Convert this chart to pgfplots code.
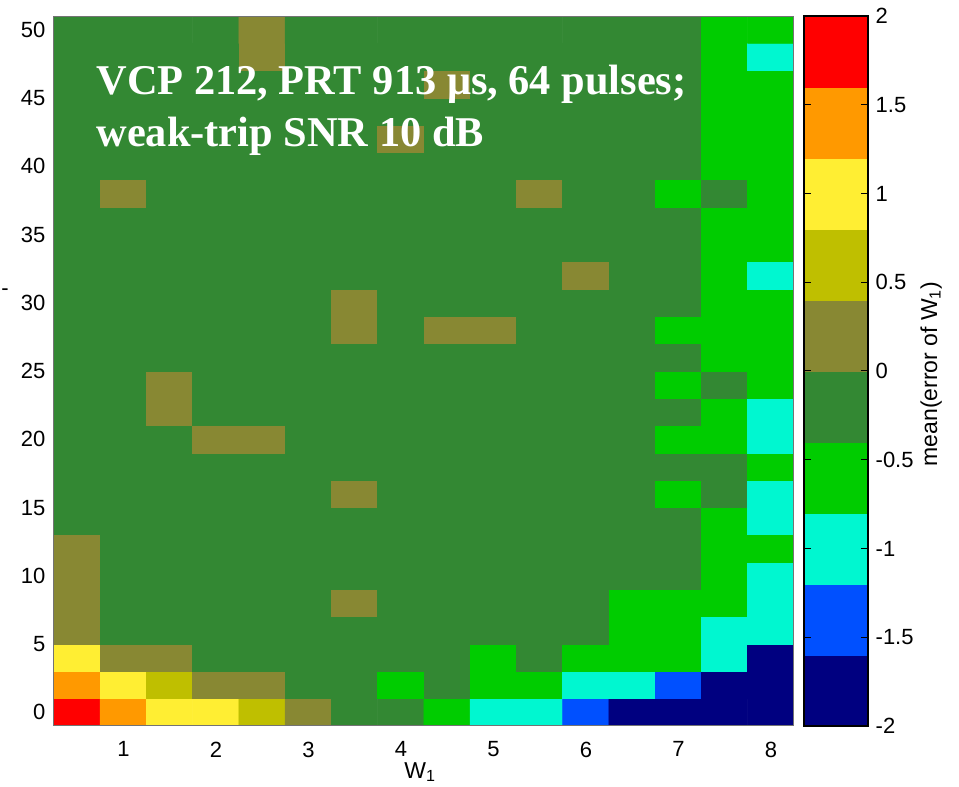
\documentclass[border=0pt]{standalone}
\usepackage{pgfplots}
\pgfplotsset{compat=1.18}
\usepackage{fontspec}
\setmainfont{Liberation Sans}
\newfontfamily\serifbold{Liberation Serif}

% ten-step colour scale for the mean error, -2 ... 2 in steps of 0.4
\pgfplotsset{
  colormap={errmap}{
    rgb255(0cm)=(0,0,128)
    rgb255(1cm)=(0,80,255)
    rgb255(2cm)=(0,247,208)
    rgb255(3cm)=(0,204,0)
    rgb255(4cm)=(51,136,51)
    rgb255(5cm)=(136,136,51)
    rgb255(6cm)=(191,191,0)
    rgb255(7cm)=(255,238,51)
    rgb255(8cm)=(255,153,0)
    rgb255(9cm)=(255,0,0)
    rgb255(10cm)=(255,0,0)
  },
}

\begin{document}
\begin{tikzpicture}
\useasboundingbox (-27pt,-30.5pt) rectangle (452.5pt,363pt);

% mean error of W1 over (W1, second variable)
\begin{axis}[
  at={(0pt,0pt)}, anchor=south west,
  scale only axis, width=370pt, height=355pt,
  xmin=0.25, xmax=8.25, ymin=-1, ymax=51,
  xtick={1,2,3,4,5,6,7,8}, ytick={0,5,10,15,20,25,30,35,40,45,50},
  major tick length=0pt,
  colormap name=errmap, colormap access=piecewise constant,
  point meta min=-2, point meta max=2,
  axis line style={draw=black!55, line width=0.5pt},
  axis on top,
  /pgf/number format/assume math mode=true,
  tick label style={font=\fontsize{11}{13}\selectfont},
  xticklabel style={yshift=-4.3pt},
  yticklabel style={xshift=-0.8pt},
  xlabel={W\textsubscript{1}},
  xlabel style={at={(axis description cs:0.495,0)}, anchor=north, inner sep=0pt,
                yshift=-18pt, font=\fontsize{11.5}{13}\selectfont},
]
\addplot[matrix plot*, mesh/cols=16, point meta=explicit] coordinates {
(0.5,0)[1.8] (1,0)[1.4] (1.5,0)[1.0] (2,0)[1.0] (2.5,0)[0.6] (3,0)[0.2] (3.5,0)[-0.2] (4,0)[-0.2] (4.5,0)[-0.6] (5,0)[-1.0] (5.5,0)[-1.0] (6,0)[-1.4] (6.5,0)[-1.8] (7,0)[-1.8] (7.5,0)[-1.8] (8,0)[-1.8]
(0.5,2)[1.4] (1,2)[1.0] (1.5,2)[0.6] (2,2)[0.2] (2.5,2)[0.2] (3,2)[-0.2] (3.5,2)[-0.2] (4,2)[-0.6] (4.5,2)[-0.2] (5,2)[-0.6] (5.5,2)[-0.6] (6,2)[-1.0] (6.5,2)[-1.0] (7,2)[-1.4] (7.5,2)[-1.8] (8,2)[-1.8]
(0.5,4)[1.0] (1,4)[0.2] (1.5,4)[0.2] (2,4)[-0.2] (2.5,4)[-0.2] (3,4)[-0.2] (3.5,4)[-0.2] (4,4)[-0.2] (4.5,4)[-0.2] (5,4)[-0.6] (5.5,4)[-0.2] (6,4)[-0.6] (6.5,4)[-0.6] (7,4)[-0.6] (7.5,4)[-1.0] (8,4)[-1.8]
(0.5,6)[0.2] (1,6)[-0.2] (1.5,6)[-0.2] (2,6)[-0.2] (2.5,6)[-0.2] (3,6)[-0.2] (3.5,6)[-0.2] (4,6)[-0.2] (4.5,6)[-0.2] (5,6)[-0.2] (5.5,6)[-0.2] (6,6)[-0.2] (6.5,6)[-0.6] (7,6)[-0.6] (7.5,6)[-1.0] (8,6)[-1.0]
(0.5,8)[0.2] (1,8)[-0.2] (1.5,8)[-0.2] (2,8)[-0.2] (2.5,8)[-0.2] (3,8)[-0.2] (3.5,8)[0.2] (4,8)[-0.2] (4.5,8)[-0.2] (5,8)[-0.2] (5.5,8)[-0.2] (6,8)[-0.2] (6.5,8)[-0.6] (7,8)[-0.6] (7.5,8)[-0.6] (8,8)[-1.0]
(0.5,10)[0.2] (1,10)[-0.2] (1.5,10)[-0.2] (2,10)[-0.2] (2.5,10)[-0.2] (3,10)[-0.2] (3.5,10)[-0.2] (4,10)[-0.2] (4.5,10)[-0.2] (5,10)[-0.2] (5.5,10)[-0.2] (6,10)[-0.2] (6.5,10)[-0.2] (7,10)[-0.2] (7.5,10)[-0.6] (8,10)[-1.0]
(0.5,12)[0.2] (1,12)[-0.2] (1.5,12)[-0.2] (2,12)[-0.2] (2.5,12)[-0.2] (3,12)[-0.2] (3.5,12)[-0.2] (4,12)[-0.2] (4.5,12)[-0.2] (5,12)[-0.2] (5.5,12)[-0.2] (6,12)[-0.2] (6.5,12)[-0.2] (7,12)[-0.2] (7.5,12)[-0.6] (8,12)[-0.6]
(0.5,14)[-0.2] (1,14)[-0.2] (1.5,14)[-0.2] (2,14)[-0.2] (2.5,14)[-0.2] (3,14)[-0.2] (3.5,14)[-0.2] (4,14)[-0.2] (4.5,14)[-0.2] (5,14)[-0.2] (5.5,14)[-0.2] (6,14)[-0.2] (6.5,14)[-0.2] (7,14)[-0.2] (7.5,14)[-0.6] (8,14)[-1.0]
(0.5,16)[-0.2] (1,16)[-0.2] (1.5,16)[-0.2] (2,16)[-0.2] (2.5,16)[-0.2] (3,16)[-0.2] (3.5,16)[0.2] (4,16)[-0.2] (4.5,16)[-0.2] (5,16)[-0.2] (5.5,16)[-0.2] (6,16)[-0.2] (6.5,16)[-0.2] (7,16)[-0.6] (7.5,16)[-0.2] (8,16)[-1.0]
(0.5,18)[-0.2] (1,18)[-0.2] (1.5,18)[-0.2] (2,18)[-0.2] (2.5,18)[-0.2] (3,18)[-0.2] (3.5,18)[-0.2] (4,18)[-0.2] (4.5,18)[-0.2] (5,18)[-0.2] (5.5,18)[-0.2] (6,18)[-0.2] (6.5,18)[-0.2] (7,18)[-0.2] (7.5,18)[-0.2] (8,18)[-0.6]
(0.5,20)[-0.2] (1,20)[-0.2] (1.5,20)[-0.2] (2,20)[0.2] (2.5,20)[0.2] (3,20)[-0.2] (3.5,20)[-0.2] (4,20)[-0.2] (4.5,20)[-0.2] (5,20)[-0.2] (5.5,20)[-0.2] (6,20)[-0.2] (6.5,20)[-0.2] (7,20)[-0.6] (7.5,20)[-0.6] (8,20)[-1.0]
(0.5,22)[-0.2] (1,22)[-0.2] (1.5,22)[0.2] (2,22)[-0.2] (2.5,22)[-0.2] (3,22)[-0.2] (3.5,22)[-0.2] (4,22)[-0.2] (4.5,22)[-0.2] (5,22)[-0.2] (5.5,22)[-0.2] (6,22)[-0.2] (6.5,22)[-0.2] (7,22)[-0.2] (7.5,22)[-0.6] (8,22)[-1.0]
(0.5,24)[-0.2] (1,24)[-0.2] (1.5,24)[0.2] (2,24)[-0.2] (2.5,24)[-0.2] (3,24)[-0.2] (3.5,24)[-0.2] (4,24)[-0.2] (4.5,24)[-0.2] (5,24)[-0.2] (5.5,24)[-0.2] (6,24)[-0.2] (6.5,24)[-0.2] (7,24)[-0.6] (7.5,24)[-0.2] (8,24)[-0.6]
(0.5,26)[-0.2] (1,26)[-0.2] (1.5,26)[-0.2] (2,26)[-0.2] (2.5,26)[-0.2] (3,26)[-0.2] (3.5,26)[-0.2] (4,26)[-0.2] (4.5,26)[-0.2] (5,26)[-0.2] (5.5,26)[-0.2] (6,26)[-0.2] (6.5,26)[-0.2] (7,26)[-0.2] (7.5,26)[-0.6] (8,26)[-0.6]
(0.5,28)[-0.2] (1,28)[-0.2] (1.5,28)[-0.2] (2,28)[-0.2] (2.5,28)[-0.2] (3,28)[-0.2] (3.5,28)[0.2] (4,28)[-0.2] (4.5,28)[0.2] (5,28)[0.2] (5.5,28)[-0.2] (6,28)[-0.2] (6.5,28)[-0.2] (7,28)[-0.6] (7.5,28)[-0.6] (8,28)[-0.6]
(0.5,30)[-0.2] (1,30)[-0.2] (1.5,30)[-0.2] (2,30)[-0.2] (2.5,30)[-0.2] (3,30)[-0.2] (3.5,30)[0.2] (4,30)[-0.2] (4.5,30)[-0.2] (5,30)[-0.2] (5.5,30)[-0.2] (6,30)[-0.2] (6.5,30)[-0.2] (7,30)[-0.2] (7.5,30)[-0.6] (8,30)[-0.6]
(0.5,32)[-0.2] (1,32)[-0.2] (1.5,32)[-0.2] (2,32)[-0.2] (2.5,32)[-0.2] (3,32)[-0.2] (3.5,32)[-0.2] (4,32)[-0.2] (4.5,32)[-0.2] (5,32)[-0.2] (5.5,32)[-0.2] (6,32)[0.2] (6.5,32)[-0.2] (7,32)[-0.2] (7.5,32)[-0.6] (8,32)[-1.0]
(0.5,34)[-0.2] (1,34)[-0.2] (1.5,34)[-0.2] (2,34)[-0.2] (2.5,34)[-0.2] (3,34)[-0.2] (3.5,34)[-0.2] (4,34)[-0.2] (4.5,34)[-0.2] (5,34)[-0.2] (5.5,34)[-0.2] (6,34)[-0.2] (6.5,34)[-0.2] (7,34)[-0.2] (7.5,34)[-0.6] (8,34)[-0.6]
(0.5,36)[-0.2] (1,36)[-0.2] (1.5,36)[-0.2] (2,36)[-0.2] (2.5,36)[-0.2] (3,36)[-0.2] (3.5,36)[-0.2] (4,36)[-0.2] (4.5,36)[-0.2] (5,36)[-0.2] (5.5,36)[-0.2] (6,36)[-0.2] (6.5,36)[-0.2] (7,36)[-0.2] (7.5,36)[-0.6] (8,36)[-0.6]
(0.5,38)[-0.2] (1,38)[0.2] (1.5,38)[-0.2] (2,38)[-0.2] (2.5,38)[-0.2] (3,38)[-0.2] (3.5,38)[-0.2] (4,38)[-0.2] (4.5,38)[-0.2] (5,38)[-0.2] (5.5,38)[0.2] (6,38)[-0.2] (6.5,38)[-0.2] (7,38)[-0.6] (7.5,38)[-0.2] (8,38)[-0.6]
(0.5,40)[-0.2] (1,40)[-0.2] (1.5,40)[-0.2] (2,40)[-0.2] (2.5,40)[-0.2] (3,40)[-0.2] (3.5,40)[-0.2] (4,40)[-0.2] (4.5,40)[-0.2] (5,40)[-0.2] (5.5,40)[-0.2] (6,40)[-0.2] (6.5,40)[-0.2] (7,40)[-0.2] (7.5,40)[-0.6] (8,40)[-0.6]
(0.5,42)[-0.2] (1,42)[-0.2] (1.5,42)[-0.2] (2,42)[-0.2] (2.5,42)[-0.2] (3,42)[-0.2] (3.5,42)[-0.2] (4,42)[0.2] (4.5,42)[-0.2] (5,42)[-0.2] (5.5,42)[-0.2] (6,42)[-0.2] (6.5,42)[-0.2] (7,42)[-0.2] (7.5,42)[-0.6] (8,42)[-0.6]
(0.5,44)[-0.2] (1,44)[-0.2] (1.5,44)[-0.2] (2,44)[-0.2] (2.5,44)[-0.2] (3,44)[-0.2] (3.5,44)[-0.2] (4,44)[-0.2] (4.5,44)[-0.2] (5,44)[-0.2] (5.5,44)[-0.2] (6,44)[-0.2] (6.5,44)[-0.2] (7,44)[-0.2] (7.5,44)[-0.6] (8,44)[-0.6]
(0.5,46)[-0.2] (1,46)[-0.2] (1.5,46)[-0.2] (2,46)[-0.2] (2.5,46)[-0.2] (3,46)[-0.2] (3.5,46)[-0.2] (4,46)[-0.2] (4.5,46)[0.2] (5,46)[-0.2] (5.5,46)[-0.2] (6,46)[-0.2] (6.5,46)[-0.2] (7,46)[-0.2] (7.5,46)[-0.6] (8,46)[-0.6]
(0.5,48)[-0.2] (1,48)[-0.2] (1.5,48)[-0.2] (2,48)[-0.2] (2.5,48)[0.2] (3,48)[-0.2] (3.5,48)[-0.2] (4,48)[-0.2] (4.5,48)[-0.2] (5,48)[-0.2] (5.5,48)[-0.2] (6,48)[-0.2] (6.5,48)[-0.2] (7,48)[-0.2] (7.5,48)[-0.6] (8,48)[-1.0]
(0.5,50)[-0.2] (1,50)[-0.2] (1.5,50)[-0.2] (2,50)[-0.2] (2.5,50)[0.2] (3,50)[-0.2] (3.5,50)[-0.2] (4,50)[-0.2] (4.5,50)[-0.2] (5,50)[-0.2] (5.5,50)[-0.2] (6,50)[-0.2] (6.5,50)[-0.2] (7,50)[-0.2] (7.5,50)[-0.6] (8,50)[-0.6]
};
\end{axis}

% colour bar
\begin{axis}[
  at={(375pt,0pt)}, anchor=south west,
  scale only axis, width=32pt, height=355pt,
  xmin=0, xmax=1, ymin=-2, ymax=2,
  xtick=\empty,
  ytick={-2,-1.5,-1,-0.5,0,0.5,1,1.5,2},
  yticklabels={-2,-1.5,-1,-0.5,0,0.5,1,1.5,2},
  yticklabel pos=right,
  ytick pos=both,
  tick align=inside,
  major tick length=3.5pt,
  tick style={black, line width=0.5pt},
  axis line style={black, line width=0.6pt},
  axis on top,
  colormap name=errmap, colormap access=piecewise constant,
  point meta min=-2, point meta max=2,
  tick label style={font=\fontsize{11}{13}\selectfont},
  yticklabel style={xshift=0.3pt},
]
\addplot[matrix plot*, mesh/cols=2, point meta=explicit] coordinates {
(0.25,-1.8)[-1.8] (0.75,-1.8)[-1.8]
(0.25,-1.4)[-1.4] (0.75,-1.4)[-1.4]
(0.25,-1.0)[-1.0] (0.75,-1.0)[-1.0]
(0.25,-0.6)[-0.6] (0.75,-0.6)[-0.6]
(0.25,-0.2)[-0.2] (0.75,-0.2)[-0.2]
(0.25,0.2)[0.2] (0.75,0.2)[0.2]
(0.25,0.6)[0.6] (0.75,0.6)[0.6]
(0.25,1.0)[1.0] (0.75,1.0)[1.0]
(0.25,1.4)[1.4] (0.75,1.4)[1.4]
(0.25,1.8)[1.8] (0.75,1.8)[1.8]
};
\end{axis}

\node[rotate=90, anchor=north, inner sep=0pt, font=\fontsize{11.5}{13}\selectfont]
  at (433pt,176pt) {mean(error of W\textsubscript{1})};

\node[inner sep=0pt, font=\fontsize{11}{13}\selectfont] at (-24.5pt,217pt) {-};

\node[anchor=base west, inner sep=0pt, text=white,
      font=\serifbold\bfseries\fontsize{21.2}{25}\selectfont]
  at (21pt,315.85pt) {VCP 212, PRT 913 μs, 64 pulses;};
\node[anchor=base west, inner sep=0pt, text=white,
      font=\serifbold\bfseries\fontsize{21.2}{25}\selectfont]
  at (21pt,289.65pt) {weak-trip SNR 10 dB};
\end{tikzpicture}
\end{document}
